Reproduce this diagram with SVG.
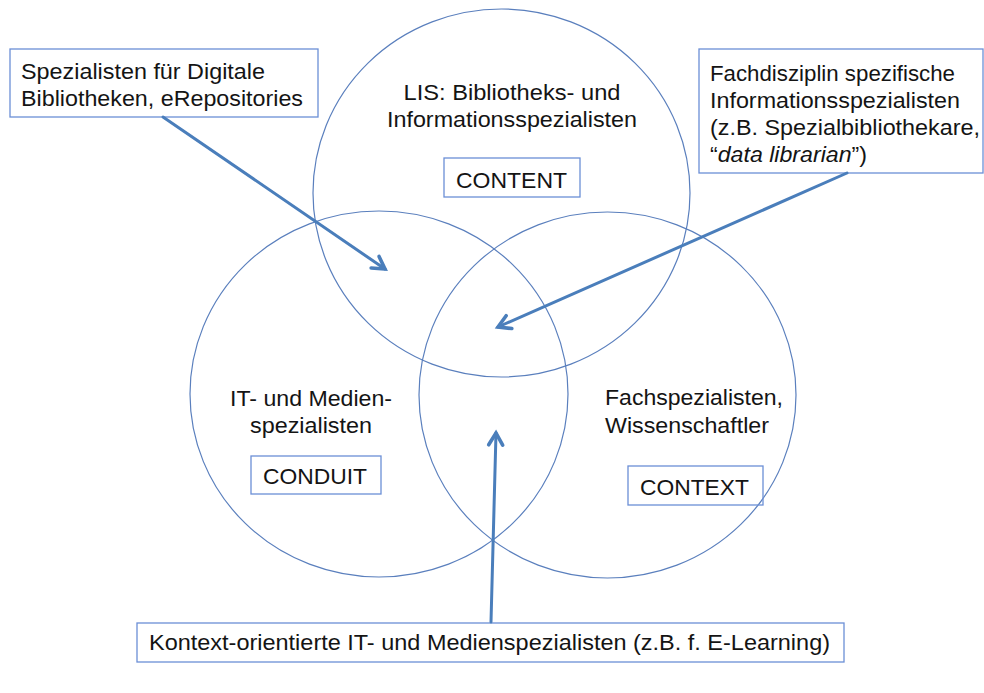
<svg xmlns="http://www.w3.org/2000/svg" width="984" height="693" viewBox="0 0 984 693">
<style>
  .circle { fill: none; stroke: #5a7fbd; stroke-width: 1.2; }
  .box { fill: none; stroke: #6b8fd6; stroke-width: 1.3; }
  .t { font-family: "Liberation Sans", Arial, Helvetica, sans-serif; font-size: 22px; fill: #141414; }
  .tc { text-anchor: middle; }
  .conn { fill: none; stroke: #4a7ebb; stroke-width: 3; stroke-linecap: round; }
</style>
<defs>
  <marker id="arr" markerUnits="userSpaceOnUse" markerWidth="20" markerHeight="20" refX="0" refY="0" orient="auto" overflow="visible">
    <path d="M-12,-7 L0,0 L-12,7" fill="none" stroke="#4a7ebb" stroke-width="3.6" stroke-linejoin="miter" stroke-linecap="round"/>
  </marker>
</defs>
<rect width="984" height="693" fill="#ffffff"/>

<g id="content-circle">
  <ellipse class="circle" cx="501.5" cy="193" rx="188.5" ry="184"/>
  <text class="t tc" x="512" y="100" textLength="217" lengthAdjust="spacingAndGlyphs">LIS: Bibliotheks- und</text>
  <text class="t tc" x="512" y="127" textLength="250" lengthAdjust="spacingAndGlyphs">Informationsspezialisten</text>
  <rect class="box" x="444" y="158" width="136" height="39"/>
  <text class="t tc" x="511.5" y="188" textLength="111" lengthAdjust="spacingAndGlyphs">CONTENT</text>
</g>

<g id="conduit-circle">
  <ellipse class="circle" cx="379" cy="394" rx="189" ry="183"/>
  <text class="t tc" x="311" y="406" textLength="162" lengthAdjust="spacingAndGlyphs">IT- und Medien-</text>
  <text class="t tc" x="311" y="433" textLength="122" lengthAdjust="spacingAndGlyphs">spezialisten</text>
  <rect class="box" x="251" y="456" width="130" height="38"/>
  <text class="t tc" x="315" y="484" textLength="104" lengthAdjust="spacingAndGlyphs">CONDUIT</text>
</g>

<g id="context-circle">
  <ellipse class="circle" cx="607.5" cy="395" rx="188.5" ry="183"/>
  <text class="t" x="605" y="405" textLength="178" lengthAdjust="spacingAndGlyphs">Fachspezialisten,</text>
  <text class="t" x="605" y="433" textLength="164" lengthAdjust="spacingAndGlyphs">Wissenschaftler</text>
  <rect class="box" x="628" y="466" width="135" height="39"/>
  <text class="t tc" x="694.5" y="495" textLength="109" lengthAdjust="spacingAndGlyphs">CONTEXT</text>
</g>

<g id="digital-libraries">
  <rect class="box" x="10" y="49" width="308" height="68"/>
  <text class="t" x="21" y="79" textLength="244" lengthAdjust="spacingAndGlyphs">Spezialisten für Digitale</text>
  <text class="t" x="21" y="106" textLength="282" lengthAdjust="spacingAndGlyphs">Bibliotheken, eRepositories</text>
</g>

<g id="discipline-specialists">
  <rect class="box" x="699" y="49" width="284" height="124"/>
  <text class="t" x="710" y="81" textLength="245" lengthAdjust="spacingAndGlyphs">Fachdisziplin spezifische</text>
  <text class="t" x="710" y="108" textLength="250" lengthAdjust="spacingAndGlyphs">Informationsspezialisten</text>
  <text class="t" x="710" y="135" textLength="270" lengthAdjust="spacingAndGlyphs">(z.B. Spezialbibliothekare,</text>
  <text class="t" x="710" y="162" textLength="157" lengthAdjust="spacingAndGlyphs">“<tspan font-style="italic">data librarian</tspan>”)</text>
</g>

<g id="context-it">
  <rect class="box" x="137" y="623" width="707" height="39"/>
  <text class="t" x="149" y="650" font-size="21" textLength="681" lengthAdjust="spacingAndGlyphs">Kontext-orientierte IT- und Medienspezialisten (z.B. f. E-Learning)</text>
</g>

<g id="connectors">
  <line class="conn" x1="163" y1="117" x2="385" y2="269" marker-end="url(#arr)"/>
  <line class="conn" x1="847" y1="173" x2="498" y2="327" marker-end="url(#arr)"/>
  <line class="conn" x1="491" y1="622" x2="496" y2="433" marker-end="url(#arr)"/>
</g>
</svg>
